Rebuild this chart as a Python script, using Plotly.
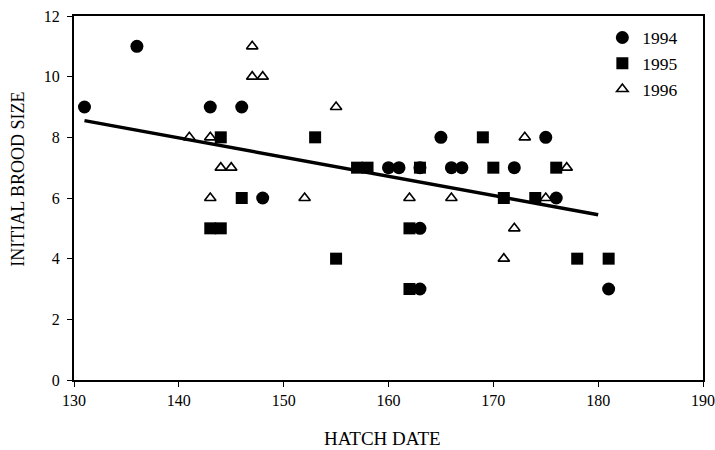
import plotly.graph_objects as go

# 1994 (filled circles)
x_1994 = [131, 136, 143, 146, 148, 160, 161, 163, 163, 163, 165, 166, 167, 172, 175, 176, 181]
y_1994 = [9, 11, 9, 9, 6, 7, 7, 7, 5, 3, 8, 7, 7, 7, 8, 6, 3]

# 1995 (filled squares)
x_1995 = [143, 144, 144, 146, 153, 155, 157, 158, 162, 162, 163, 169, 170, 171, 174, 176, 178, 181]
y_1995 = [5, 5, 8, 6, 8, 4, 7, 7, 5, 3, 7, 8, 7, 6, 6, 7, 4, 4]

# 1996 (open triangles)
x_1996 = [141, 143, 143, 144, 145, 147, 147, 148, 152, 155, 162, 166, 171, 172, 173, 175, 177]
y_1996 = [8, 8, 6, 7, 7, 11, 10, 10, 6, 9, 6, 6, 4, 5, 8, 6, 7]

# regression line end points
fit_x = [131, 180]
fit_y = [8.55, 5.45]

x_ticks = [130, 140, 150, 160, 170, 180, 190]
y_ticks = [0, 2, 4, 6, 8, 10, 12]

FONT = "Liberation Serif, Times New Roman, serif"

fig = go.Figure()
fig.add_trace(go.Scatter(x=fit_x, y=fit_y, mode="lines",
                         line=dict(color="black", width=3.5), showlegend=False))
fig.add_trace(go.Scatter(x=x_1994, y=y_1994, mode="markers", name="1994",
                         marker=dict(symbol="circle", size=13, color="black")))
fig.add_trace(go.Scatter(x=x_1995, y=y_1995, mode="markers", name="1995",
                         marker=dict(symbol="square", size=12, color="black")))
fig.add_trace(go.Scatter(x=x_1996, y=y_1996, mode="markers", name="1996",
                         marker=dict(symbol="triangle-up-open", size=10, color="black",
                                     line=dict(width=1.6, color="black"))))

fig.update_layout(
    width=715, height=450,
    margin=dict(l=74, r=12, t=16, b=70, autoexpand=False),
    paper_bgcolor="white", plot_bgcolor="white",
    font=dict(family=FONT, color="black", size=16),
    showlegend=True,
    legend=dict(x=0.84, y=0.99, xanchor="left", yanchor="top",
                bgcolor="rgba(0,0,0,0)", font=dict(size=17.5, family=FONT),
                itemwidth=30),
    annotations=[
        dict(text="HATCH DATE", xref="paper", yref="paper", x=0.491, y=-0.161,
             xanchor="center", yanchor="middle", showarrow=False,
             font=dict(size=19, family=FONT)),
        dict(text="INITIAL BROOD SIZE", xref="paper", yref="paper", x=-0.089, y=0.55,
             xanchor="center", yanchor="middle", showarrow=False, textangle=-90,
             font=dict(size=18, family=FONT)),
    ],
)
fig.update_xaxes(range=[130, 190], tickvals=x_ticks, ticktext=[str(v) for v in x_ticks],
                 showgrid=False, zeroline=False, showline=True, linecolor="black",
                 linewidth=2, mirror=True, ticks="outside", ticklen=5, tickcolor="black",
                 tickfont=dict(size=16, family=FONT), automargin=False)
fig.update_yaxes(range=[0, 12], tickvals=y_ticks, ticktext=[str(v) for v in y_ticks],
                 showgrid=False, zeroline=False, showline=True, linecolor="black",
                 linewidth=2, mirror=True, ticks="outside", ticklen=5, tickcolor="black",
                 ticklabelstandoff=4,
                 tickfont=dict(size=16, family=FONT), automargin=False)

fig.write_html("out.html", config={"displayModeBar": False},
               post_script="document.body.style.margin='0px';document.body.style.overflow='hidden';")
